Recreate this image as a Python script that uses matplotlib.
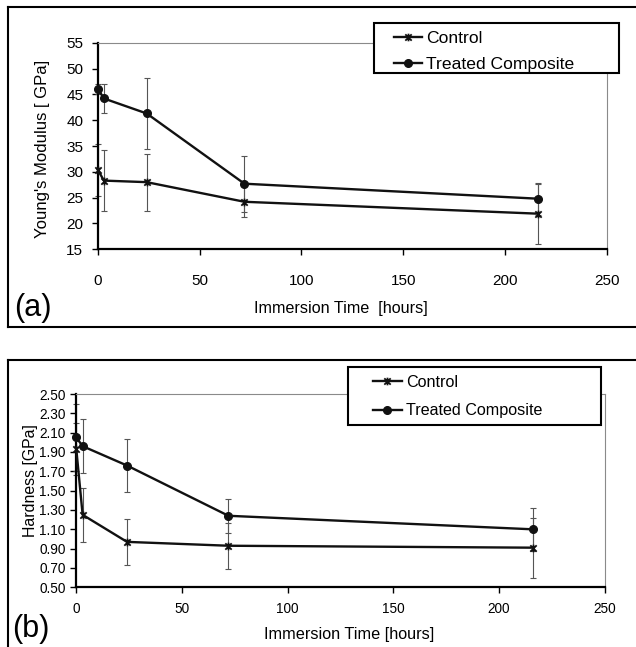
import matplotlib
matplotlib.use("Agg")
import matplotlib.pyplot as plt
from matplotlib.path import Path
from matplotlib.lines import Line2D
from matplotlib.patches import Rectangle
from matplotlib.ticker import FormatStrFormatter

plt.rcParams['font.family'] = ['Liberation Sans', 'DejaVu Sans']

# ---------------- data ----------------
time_hours = [0, 3, 24, 72, 216]

modulus_control = [30.4, 28.3, 28.0, 24.2, 21.9]
modulus_control_err = [5.0, 5.9, 5.5, 3.0, 5.8]
modulus_treated = [46.1, 44.2, 41.3, 27.7, 24.8]
modulus_treated_err = [1.0, 2.9, 6.8, 5.4, 3.1]

hardness_control = [1.93, 1.25, 0.97, 0.93, 0.91]
hardness_control_err = [0.27, 0.28, 0.24, 0.24, 0.31]
hardness_treated = [2.05, 1.96, 1.76, 1.24, 1.10]
hardness_treated_err = [0.35, 0.28, 0.27, 0.175, 0.22]

series_labels = ["Control", "Treated Composite"]
x_ticks = [0, 50, 100, 150, 200, 250]
modulus_ticks = [15, 20, 25, 30, 35, 40, 45, 50, 55]
hardness_ticks = [0.50, 0.70, 0.90, 1.10, 1.30, 1.50, 1.70, 1.90, 2.10, 2.30, 2.50]

# ---------------- figure ----------------
W, H = 636, 647
fig = plt.figure(figsize=(W / 100, H / 100), dpi=100)
fig.patch.set_facecolor("white")


def fx(px):
    return px / W


def fy(py):
    return 1 - py / H


# asterisk-like marker (Excel "star")
star = Path([(-1, -1), (1, 1), (-1, 1), (1, -1), (0, -1.2), (0, 1.2)],
            [Path.MOVETO, Path.LINETO, Path.MOVETO, Path.LINETO, Path.MOVETO, Path.LINETO])


def style_axes(ax, yticks, tick_fs, ypad, xpad):
    for s in ("left", "bottom"):
        ax.spines[s].set_color("black")
        ax.spines[s].set_linewidth(1.6)
    for s in ("top", "right"):
        ax.spines[s].set_color("#8a8a8a")
        ax.spines[s].set_linewidth(0.8)
    ax.set_xlim(0, 250)
    ax.set_xticks(x_ticks)
    ax.set_ylim(yticks[0], yticks[-1])
    ax.set_yticks(yticks)
    ax.tick_params(axis="both", direction="out", length=4, width=1.0, colors="black",
                   labelsize=tick_fs)
    ax.tick_params(axis="y", pad=ypad)
    ax.tick_params(axis="x", pad=xpad)
    ax.set_facecolor("white")


def draw_series(ax, ctrl, ctrl_err, trt, trt_err):
    ax.errorbar(time_hours, ctrl, yerr=ctrl_err, fmt="none", ecolor="#555555",
                elinewidth=0.8, capsize=2.5, capthick=0.8, clip_on=False, zorder=2)
    ax.errorbar(time_hours, trt, yerr=trt_err, fmt="none", ecolor="#555555",
                elinewidth=0.8, capsize=2.5, capthick=0.8, clip_on=False, zorder=2)
    l1, = ax.plot(time_hours, ctrl, color="#111111", lw=1.7, marker=star, markersize=5.5,
                  markeredgewidth=1.3, markerfacecolor="none", markeredgecolor="#111111",
                  clip_on=False, zorder=3)
    l2, = ax.plot(time_hours, trt, color="#111111", lw=1.7, marker="o", markersize=5.5,
                  markerfacecolor="#111111", markeredgecolor="#111111",
                  clip_on=False, zorder=3)
    return l1, l2


# ---------------- panel (a) ----------------
ax1 = fig.add_axes([fx(97.8), fy(249.3), fx(606.9) - fx(97.8), fy(42.7) - fy(249.3)])
style_axes(ax1, modulus_ticks, 11, 6.5, 14)
h1 = draw_series(ax1, modulus_control, modulus_control_err, modulus_treated, modulus_treated_err)

fig.text(fx(42.6), fy(149), "Young's Modulus [ GPa]", rotation=90, ha="center", va="center",
         fontsize=12)
fig.text(fx(340.8), fy(308), "Immersion Time  [hours]", ha="center", va="center", fontsize=11.6)
fig.text(fx(14), fy(308), "(a)", ha="left", va="center", fontsize=22)

fig.patches.append(Rectangle((fx(373.6), fy(73)), fx(619) - fx(373.6), fy(23) - fy(73),
                             transform=fig.transFigure, facecolor="white", edgecolor="black",
                             linewidth=1.5, zorder=4))
leg1 = fig.legend(h1, series_labels, loc="center left",
                  bbox_to_anchor=(fx(393.5), fy(51.5)), bbox_transform=fig.transFigure,
                  frameon=False, fontsize=12.6, borderpad=0, borderaxespad=0,
                  handlelength=1.63, handletextpad=0.25, labelspacing=0.58, numpoints=1)
leg1.set_zorder(5)

# ---------------- panel (b) ----------------
ax2 = fig.add_axes([fx(76.3), fy(587.3), fx(604.5) - fx(76.3), fy(394) - fy(587.3)])
style_axes(ax2, hardness_ticks, 9.8, 3.6, 6.5)
ax2.yaxis.set_major_formatter(FormatStrFormatter("%.2f"))
h2 = draw_series(ax2, hardness_control, hardness_control_err, hardness_treated, hardness_treated_err)

fig.text(fx(30.4), fy(481), "Hardness [GPa]", rotation=90, ha="center", va="center",
         fontsize=11.4)
fig.text(fx(349), fy(634), "Immersion Time [hours]", ha="center", va="center", fontsize=11.7)
fig.text(fx(12), fy(629), "(b)", ha="left", va="center", fontsize=22)

fig.patches.append(Rectangle((fx(347.7), fy(425)), fx(600.8) - fx(347.7), fy(366.7) - fy(425),
                             transform=fig.transFigure, facecolor="white", edgecolor="black",
                             linewidth=1.5, zorder=4))
leg2 = fig.legend(h2, series_labels, loc="center left",
                  bbox_to_anchor=(fx(373), fy(396.4)), bbox_transform=fig.transFigure,
                  frameon=False, fontsize=11.6, borderpad=0, borderaxespad=0,
                  handlelength=1.78, handletextpad=0.25, labelspacing=0.84, numpoints=1)
leg2.set_zorder(5)

# ---------------- outer panel frames ----------------
frame_kw = dict(transform=fig.transFigure, color="black", linewidth=1.5, zorder=6)
fig.lines.extend([
    Line2D([fx(8), fx(636)], [fy(7), fy(7)], **frame_kw),
    Line2D([fx(8), fx(8)], [fy(7), fy(326.5)], **frame_kw),
    Line2D([fx(8), fx(636)], [fy(326.5), fy(326.5)], **frame_kw),
    Line2D([fx(8), fx(636)], [fy(359.5), fy(359.5)], **frame_kw),
    Line2D([fx(8), fx(8)], [fy(359.5), fy(647)], **frame_kw),
])

fig.savefig("out.png", dpi=100, facecolor="white")
